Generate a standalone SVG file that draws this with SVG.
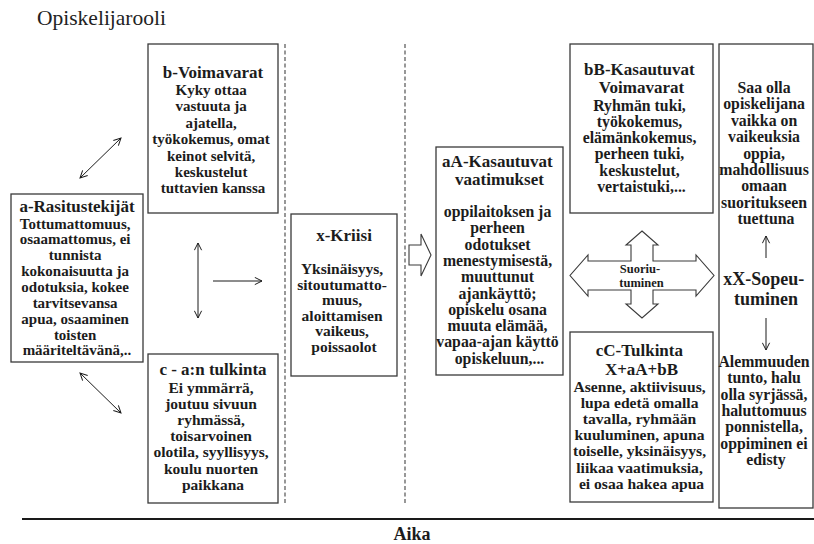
<svg xmlns="http://www.w3.org/2000/svg" width="814" height="544" viewBox="0 0 814 544">
  <style>
    .box { fill: #ffffff; stroke: #3a3a3a; stroke-width: 1.3; }
    .divider { stroke: #444444; stroke-width: 1.1; stroke-dasharray: 4 2.5; fill: none; }
    .link { stroke: #1a1a1a; stroke-width: 1; fill: none; }
    .txt { font-family: "Liberation Serif", "Times New Roman", serif; font-weight: bold; text-anchor: middle; fill: #1c1c1c; }
    .head { font-size: 17px; }
    .body { font-size: 15.5px; }
    .hollow { fill: #ffffff; stroke: #3a3a3a; stroke-width: 1.1; stroke-linejoin: miter; }
  </style>
  <defs>
    <marker id="open-head" viewBox="0 0 10 10" refX="9" refY="5" markerWidth="9" markerHeight="9" orient="auto-start-reverse" markerUnits="userSpaceOnUse">
      <path d="M1,1 L9,5 L1,9" fill="none" stroke="#1a1a1a" stroke-width="1.1"/>
    </marker>
  </defs>

  <rect width="814" height="544" fill="#ffffff"/>

  <!-- role label -->
  <text x="37" y="25" font-family="Liberation Serif, Times New Roman, serif" font-size="21.5" fill="#222222">Opiskelijarooli</text>

  <!-- phase dividers -->
  <line class="divider" x1="285" y1="44" x2="285" y2="505"/>
  <line class="divider" x1="405" y1="44" x2="405" y2="505"/>

  <!-- a: stress factors -->
  <g id="node-a">
    <rect class="box" x="11" y="194" width="132" height="168"/>
    <text class="txt head" x="77" y="211.5">a-Rasitustekijät</text>
    <text class="txt body" style="font-size:15px">
      <tspan x="77" y="228.5">Tottumattomuus,</tspan>
      <tspan x="77" y="244.4">osaamattomus, ei</tspan>
      <tspan x="77" y="260.2">tunnista</tspan>
      <tspan x="77" y="276.1">kokonaisuutta ja</tspan>
      <tspan x="77" y="291.9">odotuksia, kokee</tspan>
      <tspan x="77" y="307.8">tarvitsevansa</tspan>
      <tspan x="77" y="323.6">apua, osaaminen</tspan>
      <tspan x="77" y="339.5">toisten</tspan>
      <tspan x="77" y="355.3">määriteltävänä,..</tspan>
    </text>
  </g>

  <!-- b: resources -->
  <g id="node-b">
    <rect class="box" x="148" y="44" width="130" height="169"/>
    <text class="txt head" x="213" y="77.5">b-Voimavarat</text>
    <text class="txt body" style="font-size:15px">
      <tspan x="213" y="95">Kyky ottaa</tspan>
      <tspan x="213" y="111.4">vastuuta ja</tspan>
      <tspan x="213" y="127.8">ajatella,</tspan>
      <tspan x="213" y="144.2">työkokemus, omat</tspan>
      <tspan x="213" y="160.6">keinot selvitä,</tspan>
      <tspan x="213" y="177">keskustelut</tspan>
      <tspan x="213" y="193.4">tuttavien kanssa</tspan>
    </text>
  </g>

  <!-- c: interpretation of a -->
  <g id="node-c">
    <rect class="box" x="148" y="354" width="130" height="149"/>
    <text class="txt head" x="213" y="374.5">c - a:n tulkinta</text>
    <text class="txt body">
      <tspan x="213" y="392.5">Ei ymmärrä,</tspan>
      <tspan x="213" y="408.7">joutuu sivuun</tspan>
      <tspan x="213" y="424.9">ryhmässä,</tspan>
      <tspan x="213" y="441.1">toisarvoinen</tspan>
      <tspan x="213" y="457.3">olotila, syyllisyys,</tspan>
      <tspan x="213" y="473.5">koulu nuorten</tspan>
      <tspan x="213" y="489.7">paikkana</tspan>
    </text>
  </g>

  <!-- x: crisis -->
  <g id="node-x">
    <rect class="box" x="291" y="214" width="106" height="162"/>
    <text class="txt head" x="344" y="241">x-Kriisi</text>
    <text class="txt body">
      <tspan x="344" y="274">Yksinäisyys,</tspan>
      <tspan x="344" y="289.5">sitoutumatto-</tspan>
      <tspan x="344" y="305">muus,</tspan>
      <tspan x="344" y="320.5">aloittamisen</tspan>
      <tspan x="344" y="336">vaikeus,</tspan>
      <tspan x="344" y="351.5">poissaolot</tspan>
    </text>
  </g>

  <!-- aA: accumulating demands -->
  <g id="node-aA">
    <rect class="box" x="436" y="147" width="127" height="228"/>
    <text class="txt head">
      <tspan x="499.5" y="166.5">aA-Kasautuvat</tspan>
      <tspan x="499.5" y="185">vaatimukset</tspan>
    </text>
    <text class="txt body" style="font-size:15.8px">
      <tspan x="499.5" y="217">oppilaitoksen ja</tspan>
      <tspan x="499.5" y="233.3">perheen</tspan>
      <tspan x="499.5" y="249.6">odotukset</tspan>
      <tspan x="499.5" y="265.9">menestymisestä,</tspan>
      <tspan x="499.5" y="282.2">muuttunut</tspan>
      <tspan x="499.5" y="298.5">ajankäyttö;</tspan>
      <tspan x="499.5" y="314.8">opiskelu osana</tspan>
      <tspan x="499.5" y="331.1">muuta elämää,</tspan>
      <tspan x="499.5" y="347.4">vapaa-ajan käyttö</tspan>
      <tspan x="499.5" y="363.7">opiskeluun,...</tspan>
    </text>
  </g>

  <!-- bB: accumulating resources -->
  <g id="node-bB">
    <rect class="box" x="570" y="44" width="143" height="169"/>
    <text class="txt head">
      <tspan x="641.5" y="74.5">bB-Kasautuvat</tspan>
      <tspan x="641.5" y="93">Voimavarat</tspan>
    </text>
    <text class="txt body" style="font-size:15.8px">
      <tspan x="641.5" y="110.5">Ryhmän tuki,</tspan>
      <tspan x="641.5" y="126.8">työkokemus,</tspan>
      <tspan x="641.5" y="143.1">elämänkokemus,</tspan>
      <tspan x="641.5" y="159.4">perheen tuki,</tspan>
      <tspan x="641.5" y="175.7">keskustelut,</tspan>
      <tspan x="641.5" y="192">vertaistuki,...</tspan>
    </text>
  </g>

  <!-- cC: interpretation -->
  <g id="node-cC">
    <rect class="box" x="570" y="332" width="143" height="170"/>
    <text class="txt head">
      <tspan x="641.5" y="356">cC-Tulkinta</tspan>
      <tspan x="641.5" y="374.5">X+aA+bB</tspan>
    </text>
    <text class="txt body" style="font-size:15.6px">
      <tspan x="641.5" y="391.5">Asenne, aktiivisuus,</tspan>
      <tspan x="641.5" y="407.7">lupa edetä omalla</tspan>
      <tspan x="641.5" y="423.9">tavalla, ryhmään</tspan>
      <tspan x="641.5" y="440.1">kuuluminen, apuna</tspan>
      <tspan x="641.5" y="456.3">toiselle, yksinäisyys,</tspan>
      <tspan x="641.5" y="472.5">liikaa vaatimuksia,</tspan>
      <tspan x="641.5" y="488.7">ei osaa hakea apua</tspan>
    </text>
  </g>

  <!-- xX: adaptation -->
  <g id="node-xX">
    <rect class="box" x="719" y="44" width="94" height="464"/>
    <text class="txt body" style="font-size:15.8px">
      <tspan x="766" y="93">Saa olla</tspan>
      <tspan x="766" y="109.4">opiskelijana</tspan>
      <tspan x="766" y="125.8">vaikka on</tspan>
      <tspan x="766" y="142.2">vaikeuksia</tspan>
      <tspan x="766" y="158.6">oppia,</tspan>
      <tspan x="766" y="175">mahdollisuus</tspan>
      <tspan x="766" y="191.4">omaan</tspan>
      <tspan x="766" y="207.8">suoritukseen</tspan>
      <tspan x="766" y="224.2">tuettuna</tspan>
    </text>
    <text class="txt head" style="font-size:18px">
      <tspan x="766" y="285">xX-Sopeu-</tspan>
      <tspan x="766" y="305">tuminen</tspan>
    </text>
    <text class="txt body" style="font-size:15.8px">
      <tspan x="766" y="367">Alemmuuden</tspan>
      <tspan x="766" y="383.3">tunto, halu</tspan>
      <tspan x="766" y="399.6">olla syrjässä,</tspan>
      <tspan x="766" y="415.9">haluttomuus</tspan>
      <tspan x="766" y="432.2">ponnistella,</tspan>
      <tspan x="766" y="448.5">oppiminen ei</tspan>
      <tspan x="766" y="464.8">edisty</tspan>
    </text>
  </g>

  <!-- performance: four-way arrow -->
  <g id="node-suoriutuminen">
    <polygon class="hollow" points="642,231 658,245 653,245 653,261 696,261 696,255 714,275.5 696,296 696,290 653,290 653,304 658,304 642,318 626,304 631,304 631,290 588,290 588,296 570,275.5 588,255 588,261 631,261 631,245 626,245"/>
    <text class="txt" style="font-size:12.5px">
      <tspan x="641.5" y="273">Suoriu-</tspan>
      <tspan x="641.5" y="286.5">tuminen</tspan>
    </text>
  </g>

  <!-- connectors -->
  <g id="connectors">
    <line class="link" x1="80" y1="178" x2="121" y2="138" marker-start="url(#open-head)" marker-end="url(#open-head)"/>
    <line class="link" x1="198" y1="243" x2="198" y2="318" marker-start="url(#open-head)" marker-end="url(#open-head)"/>
    <line class="link" x1="213" y1="281" x2="262" y2="281" marker-end="url(#open-head)"/>
    <line class="link" x1="80" y1="373" x2="121" y2="413" marker-start="url(#open-head)" marker-end="url(#open-head)"/>
    <polygon class="hollow" points="409,245 421,245 421,234 431,255 421,276 421,265 409,265"/>
    <line class="link" x1="766" y1="258" x2="766" y2="236" marker-end="url(#open-head)"/>
    <line class="link" x1="766" y1="318" x2="766" y2="350" marker-end="url(#open-head)"/>
  </g>

  <!-- time axis -->
  <g id="time-axis">
    <line x1="22" y1="519" x2="814" y2="519" stroke="#1a1a1a" stroke-width="2"/>
    <text class="txt" x="412" y="540" style="font-size:18px">Aika</text>
  </g>
</svg>
